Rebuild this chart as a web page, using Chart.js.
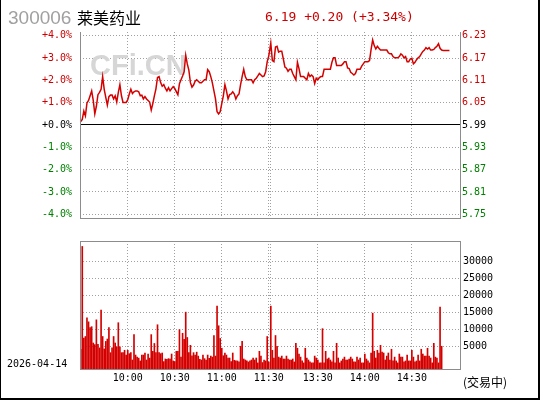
<!DOCTYPE html>
<html>
<head>
<meta charset="utf-8">
<script src="https://cdn.jsdelivr.net/npm/chart.js@4/dist/chart.umd.min.js"></script>
<style>
  html, body { margin: 0; padding: 0; background: #fff; }
  #wrap { position: relative; width: 540px; height: 400px; overflow: hidden; background: #fff; }
  #wrap canvas { position: absolute; left: 0; }
  .txt { position: absolute; white-space: pre; line-height: 1; }
  #border { position: absolute; left: 0; top: 0; width: 537px; height: 398px;
            border-left: 1px solid #000; border-right: 2px solid #000; border-bottom: 2px solid #000; }
</style>
</head>
<body>
<div id="wrap">
  <canvas id="priceChart" width="540" height="232" style="top:0"></canvas>
  <canvas id="volChart" width="540" height="168" style="top:232px"></canvas>
  <div class="txt" id="code" style="left:8px;top:7px;font:19px 'Liberation Sans';color:#a0a0a0"></div>
  <div class="txt" id="name" style="left:77px;top:5px;font:16px 'Noto Sans CJK SC';color:#000"></div>
  <div class="txt" id="quote" style="left:265px;top:9px;font:13px 'DejaVu Sans Mono';color:#cc0000"></div>
  <div class="txt" id="date" style="left:7px;top:358px;font:10px 'DejaVu Sans Mono';color:#000"></div>
  <div class="txt" id="status" style="left:463px;top:373px;font:12px 'Noto Sans CJK SC';color:#000"></div>
  <div id="border"></div>
</div>
<script>
const stockCode = '300006';
const stockName = '莱美药业';
const tradeDate = '2026-04-14';
const tradeStatus = '(交易中)';
const prevClose = 5.99;
const lastPrice = 6.19;

const pctTicks = [4, 3, 2, 1, 0, -1, -2, -3, -4];
const priceTicks = ['6.23', '6.17', '6.11', '6.05', '5.99', '5.93', '5.87', '5.81', '5.75'];
const volTicks = [5000, 10000, 15000, 20000, 25000, 30000];
const timeTicks = ['10:00', '10:30', '11:00', '11:30', '13:00', '13:30', '14:00', '14:30'];
const timeLabels = ['10:00', '10:30', '11:00', '11:30', '', '13:30', '14:00', '14:30'];

// % change vs prev close, one value per minute, 9:30 .. 11:30
const amPct = [
  0.15, 0.25, 0.63, 0.41, 0.99, 1.10, 1.31, 1.53, 1.10, 0.50,
  0.84, 1.36, 1.46, 1.60, 2.17, 1.60, 1.24, 0.89, 1.27, 1.34,
  1.34, 1.17, 1.31, 1.03, 1.46, 1.81, 1.31, 1.01, 1.01, 1.01,
  1.13, 1.39, 1.60, 1.41, 1.49, 1.53, 1.53, 1.49, 1.31, 1.34,
  1.17, 1.27, 1.17, 1.10, 1.03, 0.67, 0.96, 1.31, 1.62, 2.13,
  2.17, 1.90, 1.74, 1.81, 1.65, 1.53, 1.67, 1.53, 1.63, 1.72,
  1.64, 1.50, 1.36, 1.85, 2.03, 2.20, 2.39, 3.13, 2.74, 2.46,
  1.90, 1.70, 1.79, 1.96, 2.03, 1.96, 1.89, 1.89, 1.96, 2.03,
  2.03, 2.48, 2.39, 2.17, 1.89, 1.53, 1.17, 0.60, 0.50, 0.60,
  0.96, 1.31, 1.81, 1.53, 1.17, 1.36, 1.39, 1.49, 1.39, 1.17,
  1.31, 1.39, 1.81, 2.17, 2.50, 2.17, 2.03, 2.03, 2.03, 2.03,
  1.89, 2.03, 2.10, 2.20, 2.31, 2.24, 2.17, 2.20, 2.39, 2.84,
  3.10
];
// 13:00 .. 14:54
const pmPct = [
  3.67, 2.89, 2.84, 3.50, 3.53, 3.27, 3.31, 3.31, 2.96, 2.60,
  2.55, 2.41, 2.50, 2.50, 2.31, 2.17, 2.03, 2.81, 2.53, 2.17,
  2.17, 2.17, 2.10, 2.03, 2.31, 2.17, 2.24, 2.17, 1.86, 2.10,
  2.03, 2.13, 2.17, 2.17, 2.50, 2.50, 2.50, 2.50, 2.50, 2.81,
  3.01, 3.01, 2.67, 2.67, 2.67, 2.67, 2.74, 2.84, 2.84, 2.56,
  2.53, 2.36, 2.31, 2.24, 2.31, 2.50, 2.50, 2.50, 2.64, 2.74,
  2.84, 2.84, 2.84, 2.89, 3.39, 3.81, 3.56, 3.41, 3.53, 3.44,
  3.36, 3.36, 3.36, 3.36, 3.36, 3.24, 3.19, 3.19, 3.07, 3.01,
  3.01, 3.01, 3.07, 3.19, 3.13, 3.01, 3.07, 2.84, 2.84, 2.96,
  2.99, 2.74, 2.81, 2.93, 3.01, 3.07, 3.19, 3.30, 3.36, 3.47,
  3.41, 3.47, 3.36, 3.36, 3.39, 3.47, 3.53, 3.64, 3.44, 3.36,
  3.34, 3.34, 3.34, 3.34, 3.34
];

// volume per minute
const amVol = [
  4200, 34400, 7470, 7950, 13400, 12260, 10540, 10830, 6040, 5560,
  12840, 5650, 4600, 15700, 7950, 4300, 6500, 7200, 10600, 3200,
  4600, 7950, 6040, 4900, 12000, 4900, 3200, 3200, 3900, 2500,
  3900, 2900, 3200, 1050, 8500, 2500, 1900, 1600, 770, 2500,
  2500, 3100, 1050, 2800, 1600, 8500, 3600, 5900, 3250, 11400,
  3200, 2900, 3100, 575, 1340, 1250, 1440, 1340, 2800, 770,
  575, 3600, 3600, 9960, 1900, 8900, 7100, 15100, 7660, 3200,
  5360, 2300, 3200, 2500, 3350, 2200, 1250, 1050, 2500, 1440,
  1050, 2500, 1530, 2200, 1900, 8240, 2200, 16860, 11100, 7380,
  4500, 2300, 3100, 2500, 1630, 1630, 575, 3100, 960, 770,
  770, 480, 5080, 6500, 1340, 1050, 770, 480, 770, 1050,
  1630, 1050, 1630, 190, 3600, 2200, 300, 1050, 770, 7950,
  480
];
const pmVol = [
  16860, 3900, 1630, 8240, 5080, 1900, 1630, 2200, 1340, 1340,
  2200, 1340, 1050, 1050, 1340, 480, 5940, 4500, 2800, 1900,
  770, 190, 4500, 1630, 1050, 480, 200, 200, 2200, 1630,
  1050, 190, 200, 10250, 200, 3600, 1340, 1630, 1050, 480,
  3600, 200, 5940, 1630, 200, 770, 1340, 1900, 1050, 1050,
  1340, 1900, 1340, 480, 480, 1900, 1050, 1630, 190, 200,
  2800, 1340, 770, 200, 3100, 14800, 3600, 1630, 3900, 3100,
  5360, 3350, 3100, 1050, 2200, 3100, 1050, 4200, 770, 1900,
  770, 200, 2800, 1900, 1900, 480, 770, 2500, 770, 770,
  3900, 1900, 480, 770, 2500, 770, 4200, 2800, 2200, 2200,
  4500, 2200, 1630, 200, 5940, 1900, 1630, 200, 16570, 5080
];

const RED = '#cc0000';
const GREEN = '#008000';
const LINE_RED = '#d40000';
const GRID = '#a0a0a0';
const FRAME = '#8c8c8c';
const MONO = { family: 'DejaVu Sans Mono', size: 10 };

// the 11:30 and 13:00 lines sit a couple of pixels apart
const LUNCH_GAP = 1.28;
const X_MIN = -0.45;
const X_MAX = 242.0;

function timeToX(t) {
  const [h, m] = t.split(':').map(Number);
  const mins = h * 60 + m;
  return mins <= 11 * 60 + 30 ? mins - 570 : 120 + LUNCH_GAP + (mins - 780);
}
const amX = i => i;
const pmX = j => 120 + LUNCH_GAP + j;

const tickColor = v => (v > 0 ? RED : v < 0 ? GREEN : '#000');

document.getElementById('code').textContent = stockCode;
document.getElementById('name').textContent = stockName;
document.getElementById('date').textContent = tradeDate;
document.getElementById('status').textContent = tradeStatus;
const chg = lastPrice - prevClose;
const sign = chg >= 0 ? '+' : '-';
document.getElementById('quote').textContent =
  `${lastPrice.toFixed(2)} ${sign}${Math.abs(chg).toFixed(2)} (${sign}${Math.abs(chg / prevClose * 100).toFixed(2)}%)`;

const framePlugin = {
  id: 'frame',
  afterDraw(chart, args, opts) {
    const { ctx, chartArea: a } = chart;
    ctx.save();
    ctx.strokeStyle = FRAME;
    ctx.lineWidth = 1;
    ctx.beginPath();
    if (opts.top) { ctx.moveTo(a.left, a.top + 0.5); ctx.lineTo(a.right + 1, a.top + 0.5); }
    ctx.moveTo(a.left + 0.5, a.top); ctx.lineTo(a.left + 0.5, a.bottom + 1);
    ctx.moveTo(a.right + 0.5, a.top); ctx.lineTo(a.right + 0.5, a.bottom + 1);
    ctx.moveTo(a.left, a.bottom + 0.5); ctx.lineTo(a.right + 1, a.bottom + 0.5);
    ctx.stroke();
    ctx.restore();
  }
};

const markPlugin = {
  id: 'marks',
  beforeDatasetsDraw(chart) {
    const { ctx, chartArea: a, scales } = chart;
    ctx.save();
    ctx.fillStyle = '#d6d6d6';
    ctx.font = 'bold 29px "Liberation Sans"';
    ctx.textBaseline = 'alphabetic';
    ctx.fillText('CFi.CN', a.left + 10, a.top + 43);
    const y0 = Math.round(scales.y.getPixelForValue(0)) - 0.5;
    ctx.strokeStyle = '#000';
    ctx.lineWidth = 1;
    ctx.beginPath();
    ctx.moveTo(a.left, y0);
    ctx.lineTo(a.right, y0);
    ctx.stroke();
    ctx.restore();
  }
};

function xScale(showLabels, height) {
  return {
    type: 'linear',
    min: X_MIN,
    max: X_MAX,
    offset: false,
    afterBuildTicks: s => { s.ticks = timeTicks.map(t => ({ value: timeToX(t) })); },
    afterFit: s => { s.height = height; },
    grid: { color: GRID, drawTicks: false, offset: false },
    border: { display: false, dash: [1, 2] },
    ticks: {
      display: showLabels,
      autoSkip: false,
      maxRotation: 0,
      padding: 3,
      color: '#000',
      font: MONO,
      callback: (v, i) => timeLabels[i],
    },
  };
}

const pricePoints = amPct.map((v, i) => ({ x: amX(i), y: v }))
  .concat(pmPct.map((v, j) => ({ x: pmX(j), y: v })));

new Chart(document.getElementById('priceChart'), {
  type: 'line',
  data: {
    datasets: [{
      data: pricePoints,
      borderColor: LINE_RED,
      borderWidth: 1.5,
      pointRadius: 0,
      tension: 0,
    }],
  },
  options: {
    responsive: false,
    animation: false,
    devicePixelRatio: 1,
    layout: { padding: { top: 32, left: 0, right: 0, bottom: 0 } },
    plugins: {
      legend: { display: false },
      tooltip: { enabled: false },
      frame: { top: false },
    },
    scales: {
      x: xScale(false, 4),
      y: {
        position: 'left',
        min: -4.17,
        max: 4.17,
        afterBuildTicks: s => { s.ticks = pctTicks.map(v => ({ value: v })); },
        afterFit: s => { s.width = 80; },
        grid: {
          color: ctx => (ctx.tick && ctx.tick.value === 0 ? 'rgba(0,0,0,0)' : GRID),
          drawTicks: false,
        },
        border: { display: false, dash: [1, 2] },
        ticks: {
          padding: 8,
          font: MONO,
          color: ctx => tickColor(ctx.tick.value),
          callback: v => (v >= 0 ? '+' : '') + v.toFixed(1) + '%',
        },
      },
      y2: {
        position: 'right',
        min: -4.17,
        max: 4.17,
        afterBuildTicks: s => { s.ticks = pctTicks.map(v => ({ value: v })); },
        afterFit: s => { s.width = 80; },
        grid: { display: false, drawTicks: false },
        border: { display: false },
        ticks: {
          padding: 2,
          font: MONO,
          color: ctx => tickColor(ctx.tick.value),
          callback: v => priceTicks[pctTicks.indexOf(v)],
        },
      },
    },
  },
  plugins: [framePlugin, markPlugin],
});

const volPoints = amVol.map((v, i) => ({ x: amX(i), y: v }))
  .concat(pmVol.map((v, j) => ({ x: pmX(j), y: v })));

const VOL_MIN = -1600;

new Chart(document.getElementById('volChart'), {
  type: 'bar',
  data: {
    datasets: [{
      data: volPoints,
      backgroundColor: LINE_RED,
      barThickness: 1,
      base: VOL_MIN,
    }],
  },
  options: {
    responsive: false,
    animation: false,
    devicePixelRatio: 1,
    layout: { padding: { top: 6, left: 80, right: 0, bottom: 0 } },
    plugins: {
      legend: { display: false },
      tooltip: { enabled: false },
      frame: { top: true },
    },
    scales: {
      x: xScale(true, 31),
      y: {
        position: 'right',
        min: VOL_MIN,
        max: 36000,
        afterBuildTicks: s => { s.ticks = volTicks.map(v => ({ value: v })); },
        afterFit: s => { s.width = 80; },
        grid: { color: GRID, drawTicks: false },
        border: { display: false, dash: [1, 2] },
        ticks: { padding: 3, font: MONO, color: '#000', callback: v => String(v) },
      },
    },
  },
  plugins: [framePlugin],
});
</script>
</body>
</html>
